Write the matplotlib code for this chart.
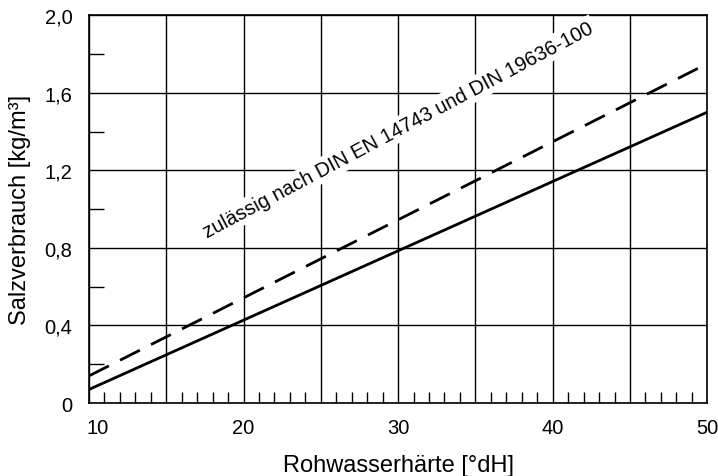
import matplotlib.pyplot as plt
import numpy as np
from matplotlib.ticker import MultipleLocator
from matplotlib.transforms import ScaledTranslation

plt.rcParams['font.family'] = ['Liberation Sans', 'DejaVu Sans']

# Data
haerte = [10, 50]
salz_solid = [0.07, 1.50]
salz_dashed = [0.14, 1.75]
x_ticks = [10, 15, 20, 25, 30, 35, 40, 45, 50]
x_labels = ['10', '', '20', '', '30', '', '40', '', '50']
y_ticks = [0, 0.4, 0.8, 1.2, 1.6, 2.0]
y_labels = ['0', '0,4', '0,8', '1,2', '1,6', '2,0']
note = 'zulässig nach DIN EN 14743 und DIN 19636-100'

fig = plt.figure(figsize=(7.18, 4.77), dpi=100)
ax = fig.add_axes([0.124, 0.153, 0.861, 0.813])

ax.plot(haerte, salz_solid, color='black', lw=2.0, solid_capstyle='butt', zorder=3)
ax.plot(haerte, salz_dashed, color='black', lw=2.0, dashes=(8, 4.5), zorder=3)

ax.set_xlim(10, 50)
ax.set_ylim(0, 2.0)
ax.set_xticks(x_ticks)
ax.set_xticklabels(x_labels)
ax.set_yticks(y_ticks)
ax.set_yticklabels(y_labels)
ax.xaxis.set_minor_locator(MultipleLocator(1))
ax.yaxis.set_minor_locator(MultipleLocator(0.2))
ax.tick_params(which='major', length=0, labelsize=14.5)
ax.tick_params(axis='x', which='major', pad=11)
ax.tick_params(axis='y', which='major', pad=12)
ax.tick_params(which='minor', direction='in', length=8, width=1, color='black')
ax.tick_params(axis='y', which='minor', length=11)
ax.grid(True, which='major', color='black', lw=1.0)

# first x label sits a little right of the corner
lbl = ax.get_xticklabels()[0]
lbl.set_transform(lbl.get_transform() + ScaledTranslation(6 / 72, 0, fig.dpi_scale_trans))

for s in ax.spines.values():
    s.set_linewidth(1.2)

ax.set_xlabel('Rohwasserhärte [°dH]', fontsize=17, labelpad=12)
ax.set_ylabel('Salzverbrauch [kg/m³]', fontsize=17, labelpad=10)

ax.text(30.0, 1.41, note, rotation=28, fontsize=14.5, ha='center', va='center',
        rotation_mode='anchor', zorder=5,
        bbox=dict(facecolor='white', edgecolor='none', pad=2))

fig.savefig('out.png', dpi=100)
